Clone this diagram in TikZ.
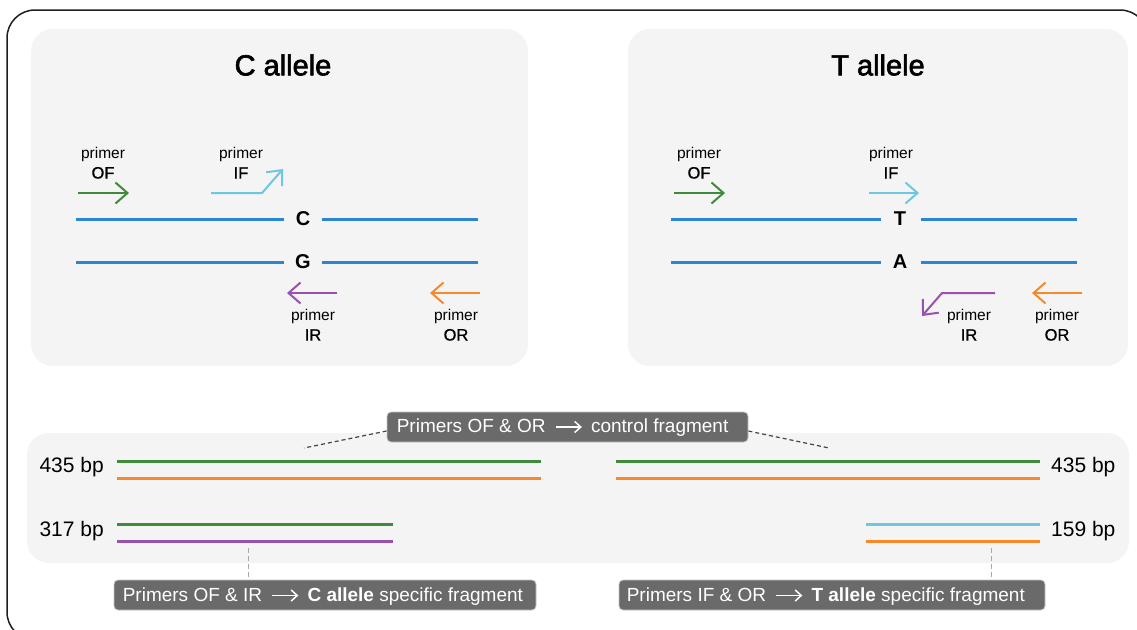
\documentclass[tikz,border=0pt]{standalone}
\usepackage{fontspec}
\setmainfont{Liberation Sans}
\usetikzlibrary{arrows.meta}

\definecolor{pgreen}{HTML}{3F8A3B}
\definecolor{pcyan}{HTML}{6CC8E0}
\definecolor{pblue}{HTML}{2A85D2}
\definecolor{ppurple}{HTML}{9A50AD}
\definecolor{porange}{HTML}{F7892B}
\definecolor{panelgray}{HTML}{F4F4F4}
\definecolor{boxgray}{HTML}{6A6A6A}
\definecolor{framec}{HTML}{1E1E1E}
\definecolor{leadgray}{HTML}{444444}
\definecolor{leadlight}{HTML}{A8A8A8}

% name of a primer under the word "primer"
\newcommand\primername[1]{{\fontsize{16.5}{20}\selectfont\addfontfeature{FakeBold=0.9}#1}}

\tikzset{
  panel/.style={fill=panelgray, draw=none, rounded corners=22pt},
  primerarrow/.style={line width=2pt, -{Straight Barb[length=12pt,width=21pt]}},
  strand/.style={pblue, line width=3pt},
  frag/.style={line width=3pt},
  title/.style={font=\fontsize{29}{34}\selectfont\addfontfeature{FakeBold=2.2}, inner sep=0pt},
  plabel/.style={font=\fontsize{15.5}{20}\selectfont, align=center, inner sep=0pt},
  base/.style={font=\fontsize{20}{22}\selectfont\bfseries, inner sep=0pt},
  bplabel/.style={font=\fontsize{21}{24}\selectfont, inner sep=0pt},
  calloutbox/.style={fill=boxgray, draw=gray!45, line width=0.8pt, rounded corners=4pt,
    minimum height=30pt, inner sep=0pt},
  callouttext/.style={text=white, font=\fontsize{19}{22}\selectfont, inner sep=0pt},
  yields/.style={white, line width=1.5pt, -{Straight Barb[length=6pt,width=11pt]}},
  leaddark/.style={leadgray, line width=1.2pt, dash pattern=on 4pt off 3pt},
  leadlite/.style={leadlight, line width=1pt, dash pattern=on 5pt off 3pt},
}

\begin{document}
\begin{tikzpicture}[x=1pt, y=-1pt]
\useasboundingbox (0,0) rectangle (1137,629);
\clip (0,0) rectangle (1137,629);

% outer frame
\draw[framec, line width=1.5pt, rounded corners=28pt] (7,10) rectangle (1148,640);

% allele panels
\fill[panel] (31,29) rectangle (528,366);
\fill[panel] (628,29) rectangle (1128,366);

% ---------------- C allele ----------------
\node[title] (tC) at (283,65) {C allele};

\node[plabel] (lOFc) at (103,163) {primer\\\primername{OF}};
\coordinate (aOFc1) at (78,193);
\coordinate (aOFc2) at (129,193);
\draw[primerarrow, pgreen] (aOFc1) -- (aOFc2);

\node[plabel] (lIFc) at (241,163) {primer\\\primername{IF}};
\coordinate (aIFc1) at (211,193);
\coordinate (aIFc2) at (262,193);
\coordinate (aIFc3) at (283,169);
\draw[primerarrow, pcyan] (aIFc1) -- (aIFc2) -- (aIFc3);

\node[base] (bC) at (303,219) {C};
\draw[strand] (76,219) -- (284,219);
\draw[strand] (322,219) -- (478,219);

\node[base] (bG) at (303,262) {G};
\draw[strand] (76,262) -- (284,262);
\draw[strand] (322,262) -- (478,262);

\coordinate (aIRc1) at (337,293);
\coordinate (aIRc2) at (287,293);
\draw[primerarrow, ppurple] (aIRc1) -- (aIRc2);
\node[plabel] (lIRc) at (313,325) {primer\\\primername{IR}};

\coordinate (aORc1) at (480,293);
\coordinate (aORc2) at (430,293);
\draw[primerarrow, porange] (aORc1) -- (aORc2);
\node[plabel] (lORc) at (456,325) {primer\\\primername{OR}};

% ---------------- T allele ----------------
\node[title] (tT) at (878,65) {T allele};

\node[plabel] (lOFt) at (699,163) {primer\\\primername{OF}};
\coordinate (aOFt1) at (674,193);
\coordinate (aOFt2) at (725,193);
\draw[primerarrow, pgreen] (aOFt1) -- (aOFt2);

\node[plabel] (lIFt) at (891,163) {primer\\\primername{IF}};
\coordinate (aIFt1) at (869,193);
\coordinate (aIFt2) at (919,193);
\draw[primerarrow, pcyan] (aIFt1) -- (aIFt2);

\node[base] (bT) at (900,219) {T};
\draw[strand] (671,219) -- (881,219);
\draw[strand] (921,219) -- (1077,219);

\node[base] (bA) at (900,262) {A};
\draw[strand] (671,262) -- (881,262);
\draw[strand] (921,262) -- (1077,262);

\coordinate (aIRt1) at (995,293);
\coordinate (aIRt2) at (942,293);
\coordinate (aIRt3) at (922,316);
\draw[primerarrow, ppurple] (aIRt1) -- (aIRt2) -- (aIRt3);
\node[plabel] (lIRt) at (969,325) {primer\\\primername{IR}};

\coordinate (aORt1) at (1082,293);
\coordinate (aORt2) at (1032,293);
\draw[primerarrow, porange] (aORt1) -- (aORt2);
\node[plabel] (lORt) at (1057,325) {primer\\\primername{OR}};

% ---------------- PCR products ----------------
\fill[panel] (27,433) rectangle (1129,563);

% control fragment, both alleles
\draw[frag, pgreen]  (117,461) -- (541,461);
\draw[frag, porange] (117,478) -- (541,478);
\draw[frag, pgreen]  (616,461) -- (1040,461);
\draw[frag, porange] (616,478) -- (1040,478);
\node[bplabel, anchor=east] (bp435l) at (104,467) {435 bp};
\node[bplabel, anchor=west] (bp435r) at (1051,467) {435 bp};

% allele specific fragments
\draw[frag, pgreen]   (117,524) -- (393,524);
\draw[frag, ppurple]  (117,541) -- (393,541);
\draw[frag, pcyan]    (866,524) -- (1040,524);
\draw[frag, porange]  (866,541) -- (1040,541);
\node[bplabel, anchor=east] (bp317) at (104,531) {317 bp};
\node[bplabel, anchor=west] (bp159) at (1051,531) {159 bp};

% ---------------- callouts ----------------
% control fragment
\node[calloutbox, minimum width=361pt] (cCtrl) at (567.5,427) {};
\node[callouttext, anchor=base west] (cCtrlA) at ([xshift=10pt,yshift=-5.5pt]cCtrl.west) {Primers OF \& OR};
\draw[yields] ([xshift=10pt,yshift=5.5pt]cCtrlA.base east) -- ++(26,0) coordinate (cCtrlY);
\node[callouttext, anchor=base west] (cCtrlB) at ([xshift=9pt,yshift=-5.5pt]cCtrlY) {control fragment};

% C allele specific fragment
\node[calloutbox, minimum width=422pt] (cC) at (325,595) {};
\node[callouttext, anchor=base west] (cCA) at ([xshift=9pt,yshift=-6pt]cC.west) {Primers OF \& IR};
\draw[yields] ([xshift=10pt,yshift=5.5pt]cCA.base east) -- ++(26,0) coordinate (cCY);
\node[callouttext, anchor=base west] (cCB) at ([xshift=9pt,yshift=-5.5pt]cCY) {\textbf{C allele} specific fragment};

% T allele specific fragment
\node[calloutbox, minimum width=426pt] (cT) at (832,595) {};
\node[callouttext, anchor=base west] (cTA) at ([xshift=8pt,yshift=-6pt]cT.west) {Primers IF \& OR};
\draw[yields] ([xshift=10pt,yshift=5.5pt]cTA.base east) -- ++(26,0) coordinate (cTY);
\node[callouttext, anchor=base west] (cTB) at ([xshift=9pt,yshift=-5.5pt]cTY) {\textbf{T allele} specific fragment};

% leader lines
\coordinate (lead1) at (304,448);
\coordinate (lead2) at (829,448);
\coordinate (lead3) at (248,548);
\coordinate (lead4) at (991,548);
\draw[leaddark] (cCtrl.west |- 0,431) -- (lead1);
\draw[leaddark] (cCtrl.east |- 0,431) -- (lead2);
\draw[leadlite] (lead3) -- (cC.north -| lead3);
\draw[leadlite] (lead4) -- (cT.north -| lead4);
\end{tikzpicture}
\end{document}
